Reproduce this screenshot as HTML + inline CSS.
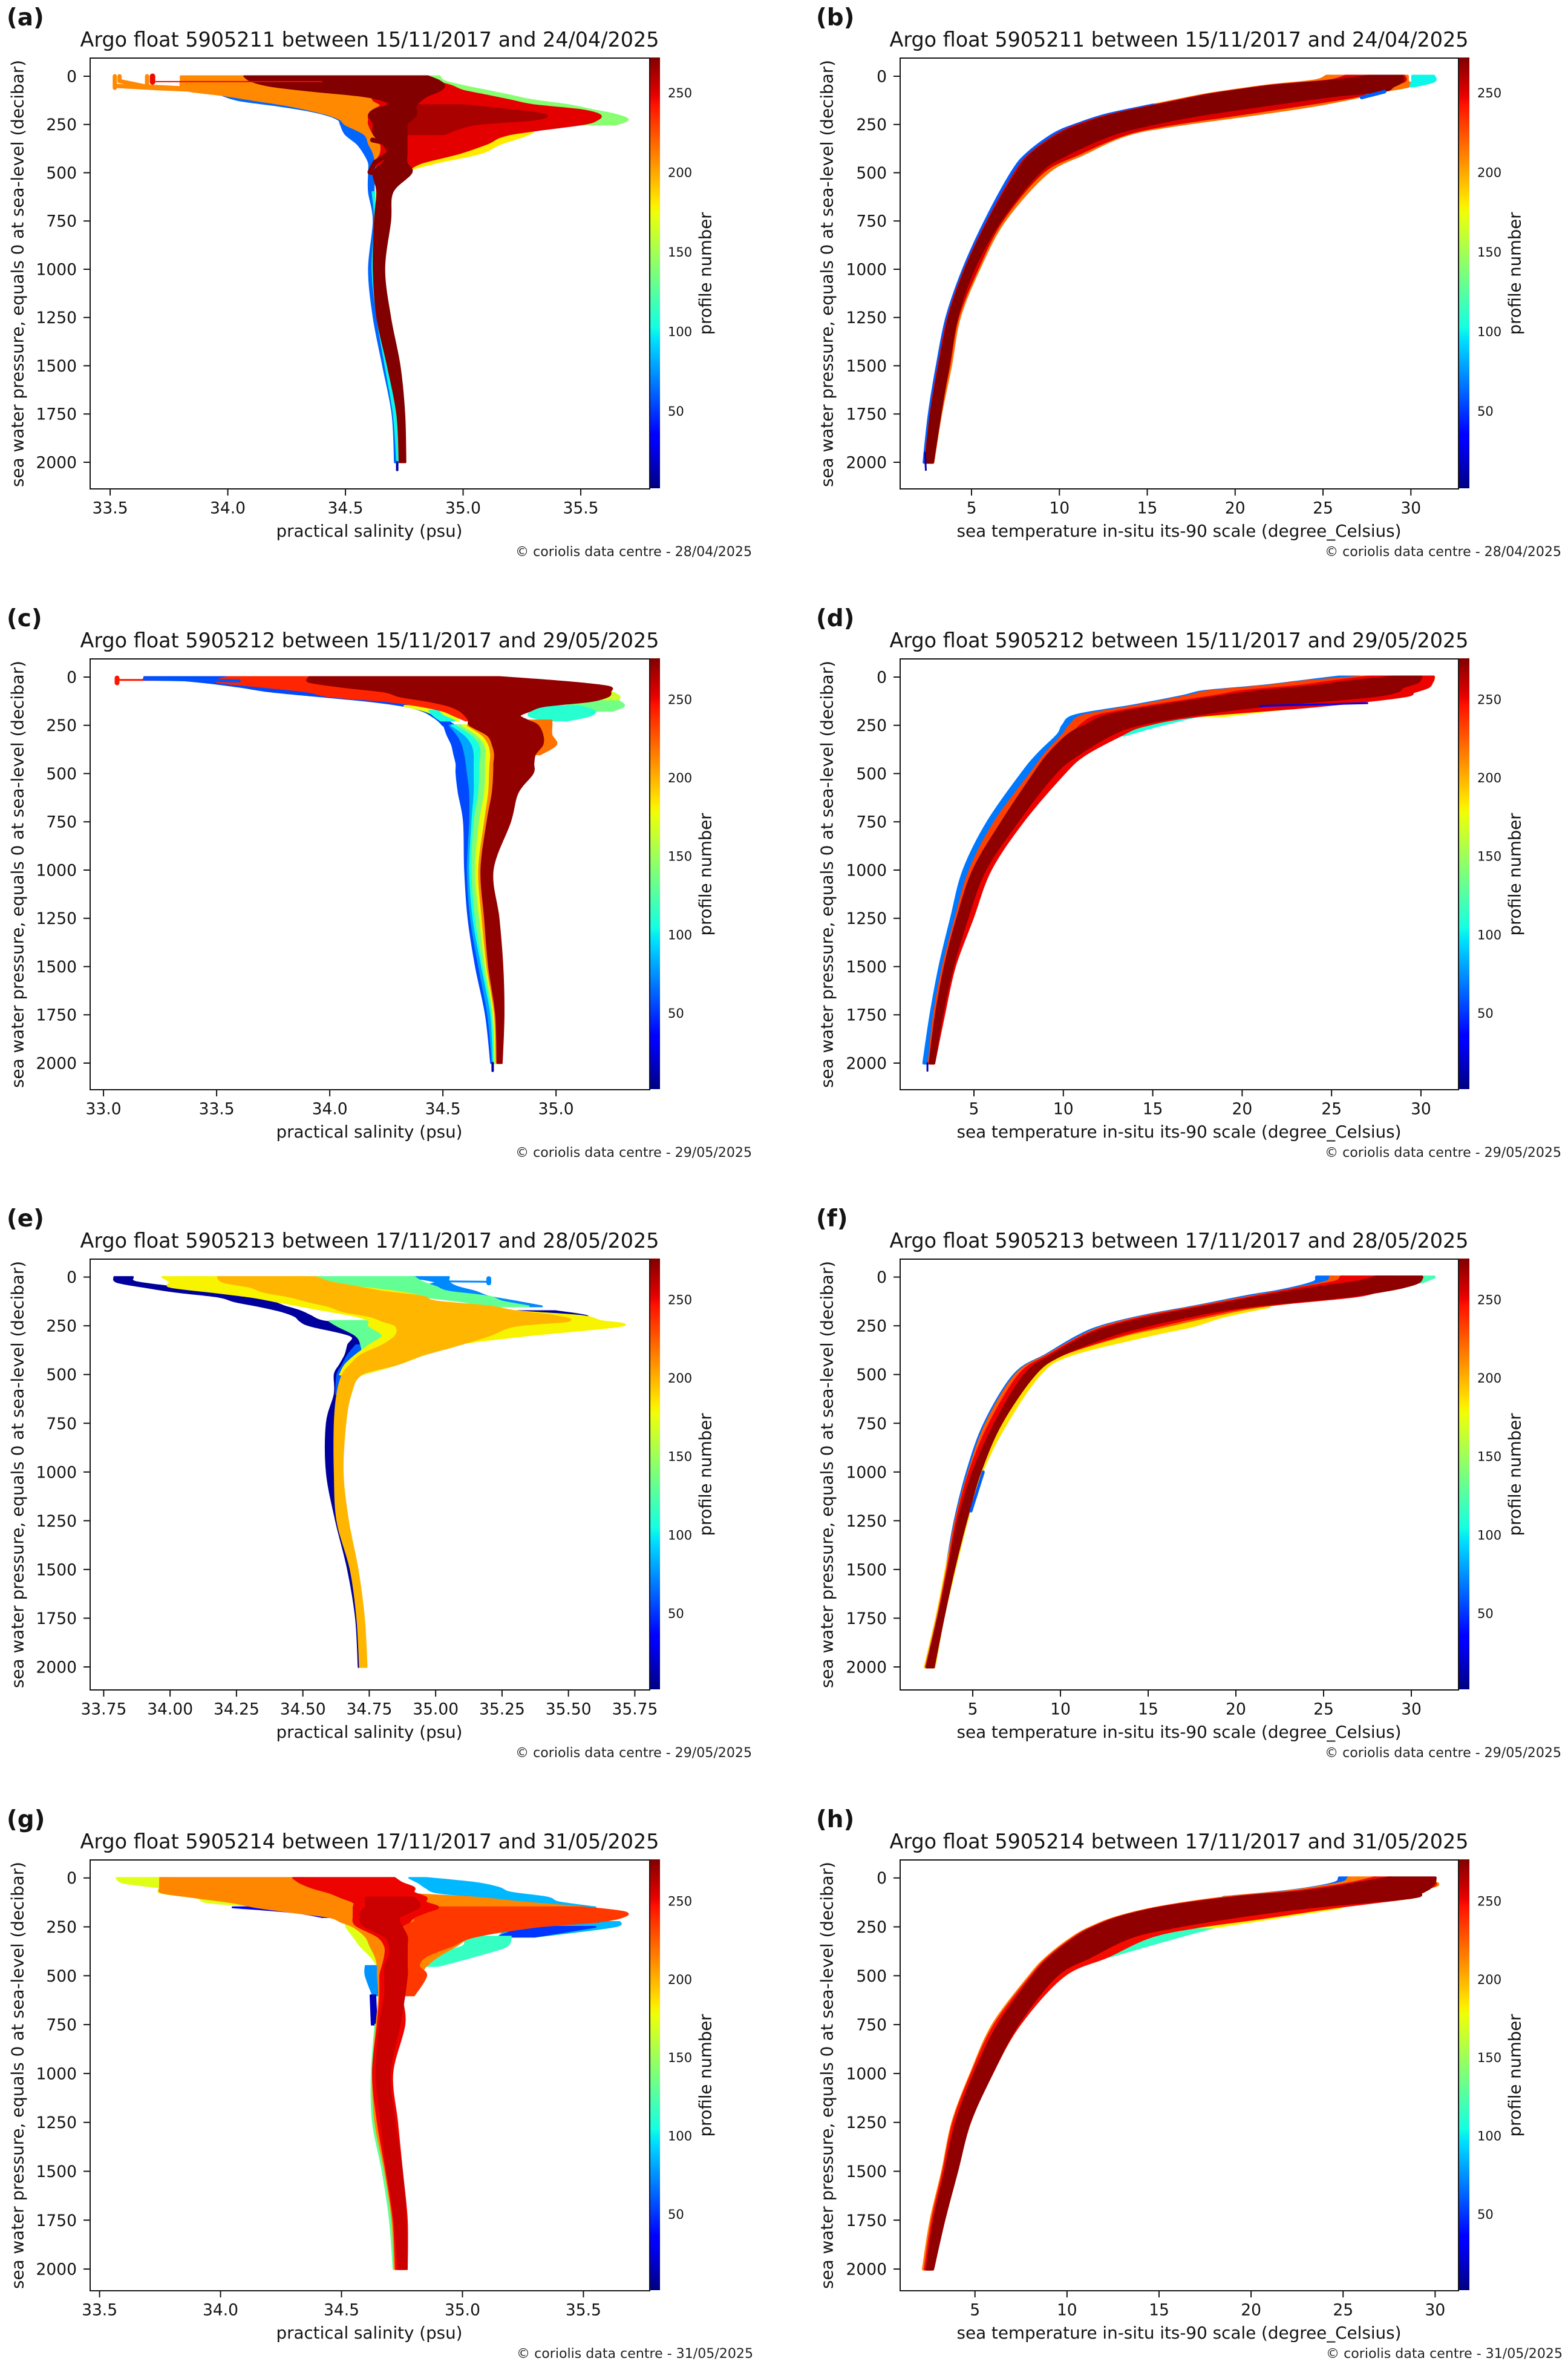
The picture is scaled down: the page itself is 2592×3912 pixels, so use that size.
<!DOCTYPE html>
<html lang="en">
<head>
<meta charset="utf-8">
<title>Argo float profiles 5905211-5905214</title>
<style>
html,body{margin:0;padding:0;background:#fff;}
svg{display:block;}
text{font-family:"DejaVu Sans","Liberation Sans",sans-serif;fill:#141414;}
.pl{font-size:38.9px;font-weight:bold;}
.ti{font-size:33.6px;text-anchor:middle;}
.lb{font-size:27.7px;text-anchor:middle;}
.cp{font-size:22.1px;text-anchor:end;fill:#222;}
</style>
</head>
<body>
<svg id="chart-svg" xmlns="http://www.w3.org/2000/svg" width="2592" height="3912" viewBox="0 0 2592 3912">
<rect x="0" y="0" width="2592" height="3912" fill="#fff"/>
<defs><linearGradient id="jet-gradient" x1="0" y1="1" x2="0" y2="0"></linearGradient></defs>
<g id="marks"></g>

<g transform="translate(0,0)">
<text class="pl" x="11" y="42">(a)</text>
<text class="ti" x="611" y="77" textLength="957" lengthAdjust="spacingAndGlyphs">Argo float 5905211 between 15/11/2017 and 24/04/2025</text>
<text class="lb" x="610.5" y="887" textLength="308" lengthAdjust="spacingAndGlyphs">practical salinity (psu)</text>
<text class="lb" transform="translate(38.5,452) rotate(-90)" textLength="706" lengthAdjust="spacingAndGlyphs">sea water pressure, equals 0 at sea-level (decibar)</text>
<text class="lb" transform="translate(1175.5,452) rotate(-90)" textLength="203" lengthAdjust="spacingAndGlyphs">profile number</text>
<text class="cp" x="1243" y="919" textLength="391" lengthAdjust="spacingAndGlyphs">© coriolis data centre - 28/04/2025</text>
</g>
<g transform="translate(1338,0)">
<text class="pl" x="11" y="42">(b)</text>
<text class="ti" x="611" y="77" textLength="957" lengthAdjust="spacingAndGlyphs">Argo float 5905211 between 15/11/2017 and 24/04/2025</text>
<text class="lb" x="611" y="887" textLength="735" lengthAdjust="spacingAndGlyphs">sea temperature in-situ its-90 scale (degree_Celsius)</text>
<text class="lb" transform="translate(38.5,452) rotate(-90)" textLength="706" lengthAdjust="spacingAndGlyphs">sea water pressure, equals 0 at sea-level (decibar)</text>
<text class="lb" transform="translate(1175.5,452) rotate(-90)" textLength="203" lengthAdjust="spacingAndGlyphs">profile number</text>
<text class="cp" x="1243" y="919" textLength="391" lengthAdjust="spacingAndGlyphs">© coriolis data centre - 28/04/2025</text>
</g>
<g transform="translate(0,993)">
<text class="pl" x="11" y="42">(c)</text>
<text class="ti" x="611" y="77" textLength="957" lengthAdjust="spacingAndGlyphs">Argo float 5905212 between 15/11/2017 and 29/05/2025</text>
<text class="lb" x="610.5" y="887" textLength="308" lengthAdjust="spacingAndGlyphs">practical salinity (psu)</text>
<text class="lb" transform="translate(38.5,452) rotate(-90)" textLength="706" lengthAdjust="spacingAndGlyphs">sea water pressure, equals 0 at sea-level (decibar)</text>
<text class="lb" transform="translate(1175.5,452) rotate(-90)" textLength="203" lengthAdjust="spacingAndGlyphs">profile number</text>
<text class="cp" x="1243" y="919" textLength="391" lengthAdjust="spacingAndGlyphs">© coriolis data centre - 29/05/2025</text>
</g>
<g transform="translate(1338,993)">
<text class="pl" x="11" y="42">(d)</text>
<text class="ti" x="611" y="77" textLength="957" lengthAdjust="spacingAndGlyphs">Argo float 5905212 between 15/11/2017 and 29/05/2025</text>
<text class="lb" x="611" y="887" textLength="735" lengthAdjust="spacingAndGlyphs">sea temperature in-situ its-90 scale (degree_Celsius)</text>
<text class="lb" transform="translate(38.5,452) rotate(-90)" textLength="706" lengthAdjust="spacingAndGlyphs">sea water pressure, equals 0 at sea-level (decibar)</text>
<text class="lb" transform="translate(1175.5,452) rotate(-90)" textLength="203" lengthAdjust="spacingAndGlyphs">profile number</text>
<text class="cp" x="1243" y="919" textLength="391" lengthAdjust="spacingAndGlyphs">© coriolis data centre - 29/05/2025</text>
</g>
<g transform="translate(0,1985)">
<text class="pl" x="11" y="42">(e)</text>
<text class="ti" x="611" y="77" textLength="957" lengthAdjust="spacingAndGlyphs">Argo float 5905213 between 17/11/2017 and 28/05/2025</text>
<text class="lb" x="610.5" y="887" textLength="308" lengthAdjust="spacingAndGlyphs">practical salinity (psu)</text>
<text class="lb" transform="translate(38.5,452) rotate(-90)" textLength="706" lengthAdjust="spacingAndGlyphs">sea water pressure, equals 0 at sea-level (decibar)</text>
<text class="lb" transform="translate(1175.5,452) rotate(-90)" textLength="203" lengthAdjust="spacingAndGlyphs">profile number</text>
<text class="cp" x="1243" y="919" textLength="391" lengthAdjust="spacingAndGlyphs">© coriolis data centre - 29/05/2025</text>
</g>
<g transform="translate(1338,1985)">
<text class="pl" x="11" y="42">(f)</text>
<text class="ti" x="611" y="77" textLength="957" lengthAdjust="spacingAndGlyphs">Argo float 5905213 between 17/11/2017 and 28/05/2025</text>
<text class="lb" x="611" y="887" textLength="735" lengthAdjust="spacingAndGlyphs">sea temperature in-situ its-90 scale (degree_Celsius)</text>
<text class="lb" transform="translate(38.5,452) rotate(-90)" textLength="706" lengthAdjust="spacingAndGlyphs">sea water pressure, equals 0 at sea-level (decibar)</text>
<text class="lb" transform="translate(1175.5,452) rotate(-90)" textLength="203" lengthAdjust="spacingAndGlyphs">profile number</text>
<text class="cp" x="1243" y="919" textLength="391" lengthAdjust="spacingAndGlyphs">© coriolis data centre - 29/05/2025</text>
</g>
<g transform="translate(0,2978)">
<text class="pl" x="11" y="42">(g)</text>
<text class="ti" x="611" y="77" textLength="957" lengthAdjust="spacingAndGlyphs">Argo float 5905214 between 17/11/2017 and 31/05/2025</text>
<text class="lb" x="610.5" y="887" textLength="308" lengthAdjust="spacingAndGlyphs">practical salinity (psu)</text>
<text class="lb" transform="translate(38.5,452) rotate(-90)" textLength="706" lengthAdjust="spacingAndGlyphs">sea water pressure, equals 0 at sea-level (decibar)</text>
<text class="lb" transform="translate(1175.5,452) rotate(-90)" textLength="203" lengthAdjust="spacingAndGlyphs">profile number</text>
<text class="cp" x="1245" y="919" textLength="391" lengthAdjust="spacingAndGlyphs">© coriolis data centre - 31/05/2025</text>
</g>
<g transform="translate(1338,2978)">
<text class="pl" x="11" y="42">(h)</text>
<text class="ti" x="611" y="77" textLength="957" lengthAdjust="spacingAndGlyphs">Argo float 5905214 between 17/11/2017 and 31/05/2025</text>
<text class="lb" x="611" y="887" textLength="735" lengthAdjust="spacingAndGlyphs">sea temperature in-situ its-90 scale (degree_Celsius)</text>
<text class="lb" transform="translate(38.5,452) rotate(-90)" textLength="706" lengthAdjust="spacingAndGlyphs">sea water pressure, equals 0 at sea-level (decibar)</text>
<text class="lb" transform="translate(1175.5,452) rotate(-90)" textLength="203" lengthAdjust="spacingAndGlyphs">profile number</text>
<text class="cp" x="1245" y="919" textLength="391" lengthAdjust="spacingAndGlyphs">© coriolis data centre - 31/05/2025</text>
</g>
</svg>

<script>
const _ = null;
/* shared pressure levels (decibar) */
const saltLevels = [0,25,50,75,100,125,150,175,200,225,250,300,350,400,450,500,600,750,1000,1250,1500,1750,2000];
const tempLevels = [0,25,50,75,100,150,200,250,300,400,500,750,1000,1250,1500,1750,2000];
const pressureTicks = [0,250,500,750,1000,1250,1500,1750,2000];
const profileTicks = [50,100,150,200,250];
const salinityTicksA = [33.5,34,34.5,35,35.5];
const salinityTicksC = [33,33.5,34,34.5,35];
const salinityTicksE = [33.75,34,34.25,34.5,34.75,35,35.25,35.5,35.75];
const salinityTicksG = [33.5,34,34.5,35,35.5];
const temperatureTicks = [5,10,15,20,25,30];

/* Panel a: salinity, float 5905211 */
const aBlueLo = [_,_,_,_,33.98,34.05,34.2,34.33,34.42,34.47,34.48,34.5,34.55,34.58,34.6,34.6,34.6,34.62,34.6,34.62,34.66,34.7,34.71];
const aBlueHi = [_,_,_,_,34.1,34.15,34.3,34.42,34.5,34.55,34.56,34.6,34.64,34.66,34.65,34.63,34.62,34.64,34.625,34.64,34.68,34.72,34.73];
const aCyanLo = [_,_,_,_,_,_,_,_,_,_,_,_,_,_,_,_,34.615,34.625,34.615,34.635,34.67,34.705,34.72];
const aCyanHi = [_,_,_,_,_,_,_,_,_,_,_,_,_,_,_,_,34.645,34.65,34.64,34.66,34.7,34.73,34.74];
const aGreenLo = [34.85,34.88,34.9,34.95,35,35.1,35.2,35.3,35.4,35.5,35.45];
const aGreenHi = [34.9,34.92,35,35.1,35.2,35.3,35.45,35.55,35.65,35.7,35.65];
const aYellowLo = [_,_,_,_,_,_,_,_,_,_,34.8,34.8,34.8,34.75,34.7,34.65,34.63,34.635,34.63,34.65,34.69,34.72,34.73];
const aYellowHi = [_,_,_,_,_,_,_,_,_,_,35.33,35.28,35.16,35.07,34.88,34.75,34.68,34.66,34.65,34.67,34.71,34.74,34.745];
const aOrangeLo = [33.8,33.8,33.8,33.83,33.99,34.12,34.25,34.35,34.43,34.48,34.5,34.58,34.6,34.62,34.63,34.64];
const aOrangeHi = [34.5,34.6,34.7,34.8,34.9,34.95,35,35.1,35.1,35.2,35.3,35.2,35.05,34.95,34.8,34.72];
const aRedLo = [34.2,34.3,34.4,34.5,34.6,34.62,34.65,34.62,34.6,34.6,34.6,34.62,34.65,34.65,34.63,34.65];
const aRedHi = [34.85,34.88,34.95,35,35.1,35.2,35.3,35.5,35.58,35.57,35.5,35.2,35.1,34.98,34.82,34.75];
const aCrimsonLo = [_,_,_,_,_,_,34.7,34.7,34.7,34.72,34.72,34.72];
const aCrimsonHi = [_,_,_,_,_,_,35,35.2,35.35,35.3,35.05,34.92];
const aDarkLo = [34.07,34.1,34.18,34.35,34.56,34.66,34.68,34.62,34.6,34.61,34.62,34.62,34.66,34.68,34.66,34.62,34.635,34.625,34.62,34.635,34.68,34.72,34.73];
const aDarkHi = [34.85,34.9,34.92,34.9,34.85,34.82,34.8,34.8,34.8,34.78,34.76,34.76,34.76,34.76,34.76,34.78,34.7,34.69,34.665,34.69,34.73,34.75,34.755];
const aBar1P = [0,60], aBar1S = [33.52,33.52];
const aBar2P = [0,25,53,62], aBar2S = [33.54,33.54,33.65,33.8];
const aBar3P = [0,55], aBar3S = [33.657,33.657];
const aBar4P = [50,62,70], aBar4S = [33.52,33.7,33.85];
const aBar5P = [0,30], aBar5S = [33.68,33.68];
const aLine1P = [28,28], aLine1S = [33.68,34.4];
const aTailP = [2000,2040], aTailS = [34.72,34.72];
const aLoopP = [330,350,389,447,497,526,555], aLoopS = [34.615,34.69,34.7,34.625,34.604,34.75,34.72];

/* Panel b: temperature, float 5905211 */
const bOuterLo = [25.2,24.5,21.9,19.9,18.1,15.4,12.8,11.1,9.8,8.3,7.4,5.85,4.6,3.65,3.1,2.67,2.36];
const bOuterHi = [29.8,29.8,29.9,28.4,27.3,24.5,20.8,16.8,13.9,11.4,9.3,6.85,5.4,4.3,3.8,3.24,2.8];
const bBlueLo = [_,_,_,_,_,15.3,12.7,11,9.7,8.2,7.3,5.8,4.55,3.6,3.05,2.6,2.3];
const bBlueHi = [_,_,_,_,_,16,13.5,12,10.5,9,7.8,6.2,4.8,3.8,3.2,2.75,2.45];
const bCyanLo = [30.1,30.1,30];
const bCyanHi = [31.3,31.3,30.2];
const bRedLo = [26.3,25.3,22.2,20.1,18.3,15.6,13,11.2,9.95,8.4,7.5,5.95,4.65,3.7,3.15,2.7,2.4];
const bRedHi = [29.6,29.6,28.5,27.5,27,23.6,19.9,16.2,13.7,11.1,9,6.7,5.3,4.2,3.7,3.15,2.78];
const bDarkLo = [27.7,25.6,22.4,20.3,18.5,15.8,13.2,11.4,10.1,8.5,7.6,6,4.7,3.75,3.2,2.72,2.42];
const bDarkHi = [29.5,29.5,29,28.4,25.6,21.6,17.9,15.1,13,10.5,8.8,6.6,5.1,4.15,3.66,3.2,2.78];
const bEdgeP = [80,110], bEdgeT = [28.5,27.2];
const bTailP = [1950,2040], bTailT = [2.35,2.4];

/* Panel c: salinity, float 5905212 */
const cE0 = [_,_,_,_,_,_,_,_,_,_,34.505,34.52,34.54,34.55,34.56,34.56,34.57,34.593,34.598,34.613,34.646,34.69,34.713];
const cE1 = [_,_,_,_,_,_,_,_,_,_,34.53,34.565,34.587,34.598,34.605,34.61,34.62,34.62,34.61,34.624,34.66,34.7,34.72];
const cE2 = [_,_,_,_,_,_,_,_,_,_,34.54,34.598,34.63,34.64,34.64,34.64,34.64,34.63,34.62,34.635,34.673,34.713,34.724];
const cE3 = [_,_,_,_,_,_,_,_,_,_,34.565,34.63,34.664,34.67,34.665,34.664,34.66,34.64,34.63,34.646,34.68,34.72,34.728];
const cE4 = [_,_,_,_,_,_,_,_,_,_,34.587,34.653,34.686,34.693,34.69,34.69,34.686,34.664,34.646,34.664,34.69,34.724,34.733];
const cE5 = [_,_,_,_,_,_,_,_,_,_,34.61,34.675,34.704,34.713,34.71,34.708,34.704,34.686,34.66,34.675,34.697,34.73,34.737];
const cDarkLo = [33.91,33.91,34.05,34.24,34.31,34.44,34.53,34.576,34.6,34.615,34.62,34.697,34.72,34.73,34.727,34.726,34.72,34.697,34.67,34.686,34.704,34.735,34.741];
const cDarkHi = [34.75,35.04,35.23,35.24,35.23,35.15,34.95,34.885,34.84,34.874,34.918,34.94,34.94,34.907,34.9,34.896,34.83,34.797,34.72,34.746,34.763,34.768,34.76];
const cBlueShallowLo = [33.18,33.43,33.6,33.74,33.96,34.18,34.33,34.41,34.45,34.48,34.5];
const cBlueShallowHi = [33.9,33.7,33.75,33.9,34.15,34.3,34.4,34.47,34.5,34.52,34.55];
const cSurfBlueLo = [34.58,34.58];
const cSurfBlueHi = [34.75,34.7];
const cSurfCyanLo = [34.45,34.45];
const cSurfCyanHi = [34.58,34.58];
const cSurfYellowLo = [34.2,34.2];
const cSurfYellowHi = [34.3,34.3];
const cRedShallowLo = [33.55,33.5,33.7,33.9,34,34.25,34.4,34.5,34.55,34.6];
const cRedShallowHi = [33.95,34.2,34.4,34.5,34.6,34.7,34.8,34.7,34.7,34.7];
const cFanYellowLo = [_,_,_,_,_,_,34.33,34.42,34.47,34.5];
const cFanYellowHi = [_,_,_,_,_,_,34.45,34.5,34.55,34.57];
const cFanCyanLo = [_,_,_,_,_,_,_,34.44,34.46,34.49];
const cFanCyanHi = [_,_,_,_,_,_,_,34.48,34.5,34.55];
const cLimeLo = [_,_,_,35.18,35.2,35.2];
const cLimeHi = [_,_,_,35.24,35.28,35.27];
const cGreenLo = [_,_,_,_,_,35.1,35.05,35.1];
const cGreenHi = [_,_,_,_,_,35.28,35.3,35.25];
const cTealLo = [_,_,_,_,_,_,34.95,34.9,34.88,34.95];
const cTealHi = [_,_,_,_,_,_,35.1,35.17,35.15,35.05];
const cOrangeLo = [_,_,_,_,_,_,_,_,_,34.85,34.88,34.9,34.92,34.9];
const cOrangeHi = [_,_,_,_,_,_,_,_,_,34.98,34.98,34.98,35,34.93];
const cStrayRedP = [15,15], cStrayRedS = [33.06,33.5];
const cStrayBarP = [5,30], cStrayBarS = [33.06,33.06];
const cStrayBlueP = [10,15,20], cStrayBlueS = [33.18,33.4,33.6];
const cTailP = [2000,2040], cTailS = [34.72,34.72];

/* Panel d: temperature, float 5905212 */
const dBlueLo = [25.4,23.2,20.9,17.9,16.7,13.9,10.7,10,9.7,8.6,7.7,5.8,4.45,3.75,3.1,2.6,2.2];
const dBlueHi = [26.6,24,22,18.5,17.5,14.8,12.5,11,10.4,9.3,8.4,6.4,5,4.1,3.4,2.9,2.7];
const dCyanLo = [_,_,_,_,_,_,14,13.5,12];
const dCyanHi = [_,_,_,_,_,_,17.5,15.3,13.4];
const dYellowLo = [_,_,_,_,_,20,17];
const dYellowHi = [_,_,_,_,_,23.5,19];
const dOrangeLo = [26.8,23.5,21.2,18.2,17,14.2,11.2,10.4,10,9,8.2,6.2,4.8,4,3.3,2.8,2.5];
const dOrangeHi = [30.7,30.6,30,28,25,19.5,15.5,13,11.5,10,9.2,7,5.3,4.4,3.6,3.05,2.7];
const dRedLo = [27.2,25,23,20,18.5,15,12,11,10.5,9.4,8.6,6.8,5.2,4.3,3.5,3,2.6];
const dRedHi = [30.7,30.6,30.4,29.6,28.9,24,17.5,14.5,13.2,11.2,10,7.7,5.9,4.9,3.9,3.3,2.75];
const dDarkLo = [28.5,26,24,21,19,15.5,12.5,11.3,10.3,9.2,8.4,6.6,5,4.1,3.4,2.9,2.55];
const dDarkHi = [30,29.8,29,28.6,27,21,16.8,14,12.6,10.8,9.5,7.4,5.6,4.6,3.8,3.2,2.75];
const dVioletP = [150,135], dVioletT = [21,27];
const dTailP = [2000,2040], dTailT = [2.4,2.4];

/* Panel e: salinity, float 5905213 */
const eNavyLo = [33.79,33.8,33.9,34.02,34.18,34.245,34.34,34.42,34.47,34.49,34.53,34.68,34.67,34.66,34.64,34.62,34.62,34.59,34.59,34.625,34.67,34.7,34.71];
const eNavyHi = [33.86,33.87,34,34.15,34.3,34.38,34.43,34.49,34.53,34.57,34.68,34.73,34.73,34.72,34.66,34.64,34.625,34.625,34.625,34.64,34.68,34.71,34.72];
const eNavyTailLo = [_,_,_,_,_,_,_,35.2,35.4,35.45];
const eNavyTailHi = [_,_,_,_,_,_,_,35.45,35.57,35.55];
const eSkyLo = [34.9,35,34.95,35,35.1,35.2,35.25];
const eSkyHi = [35.05,35.05,35.08,35.15,35.2,35.3,35.4];
const eBlueLo = [_,_,_,_,_,_,_,_,_,_,_,_,34.7,34.67,34.65,34.63,34.625];
const eBlueHi = [_,_,_,_,_,_,_,_,_,_,_,_,34.75,34.72,34.7,34.68,34.64];
const eGreenTopLo = [34.49,34.55,34.7,34.8,34.95,35.1,35.2];
const eGreenTopHi = [34.92,34.95,35,35.05,35.2,35.25,35.35];
const eGreenLowLo = [_,_,_,_,_,_,_,_,_,34.6,34.63,34.7,34.72,34.72,34.68,34.64];
const eGreenLowHi = [_,_,_,_,_,_,_,_,_,34.85,34.85,34.85,34.85,34.8,34.74,34.68];
const eLimeLo = [34.03,34.03,34.08];
const eLimeHi = [34.15,34.15,34.2];
const eYellowLo = [33.97,34,34,34.15,34.3,34.4,34.5,34.6,34.7,34.75,34.75,34.8,34.75,34.7,34.66,34.64];
const eYellowHi = [34.5,34.6,34.7,34.85,34.95,35,35.15,35.3,35.55,35.62,35.7,35.34,35.05,34.95,34.85,34.72];
const eAmberLo = [34.18,34.2,34.3,34.35,34.45,34.52,34.6,34.65,34.75,34.8,34.85,34.85,34.8,34.72,34.68,34.65,34.63,34.62,34.62,34.63,34.68,34.705,34.715];
const eAmberHi = [34.55,34.6,34.7,34.8,34.95,35,35.2,35.3,35.45,35.5,35.3,35.2,35.08,34.95,34.85,34.72,34.68,34.66,34.65,34.67,34.706,34.73,34.74];
const eStrayP = [22,24], eStrayS = [35.03,35.2];
const eStrayBarP = [8,30], eStrayBarS = [35.2,35.2];

/* Panel f: temperature, float 5905213 */
const fBlueLo = [24.6,24.5,23.6,22.3,20.6,17.8,14.8,12.5,11.1,9.2,7.4,5.7,4.7,4,3.5,2.95,2.3];
const fBlueHi = [25.6,25.4,24.4,23,21.4,18.6,15.5,13,11.5,9.6,7.9,6.3,5.2,4.3,3.7,3.1,2.4];
const fYellowLo = [_,_,_,_,_,20,17,14.5,12.5,9.5,7.8,6,4.9,4.1,3.5,2.95,2.3];
const fYellowHi = [_,_,_,_,_,21.9,19.3,17.5,14.9,10.5,8.8,6.9,5.5,4.65,3.95,3.3,2.8];
const fCyanLo = [30.6,30];
const fCyanHi = [31.3,30.6];
const fOrangeLo = [25.4,25.2,24,22.6,21,18,15,12.7,11.3,9.3,7.5,5.8,4.8,4.05,3.55,3,2.35];
const fOrangeHi = [30.6,30.4,29.5,28,26,21.3,18.5,16,13.5,10,8.5,6.6,5.4,4.5,3.85,3.25,2.75];
const fRedLo = [26,25.7,24.2,22.7,21.2,18.2,15.2,12.9,11.4,9.4,7.7,6,4.85,4.1,3.6,3.05,2.4];
const fRedHi = [29,30,29.5,28,26.5,21,18,15.5,13.3,10,8.4,6.5,5.3,4.5,3.8,3.2,2.7];
const fDarkLo = [28,27,25,23.2,21.6,18.6,15.6,13.2,11.6,9.6,8,6.3,5.05,4.2,3.65,3.05,2.4];
const fDarkHi = [30.6,30.4,29.5,28,26,20.5,17.3,14.8,12.8,10,8.5,6.6,5.4,4.6,3.9,3.3,2.75];
const fEdgeP = [1000,1200], fEdgeT = [5.6,4.9];

/* Panel g: salinity, float 5905214 */
const gYellowLo = [33.57,33.6,33.75,33.75,33.9,33.95,34.2,34.4,34.5,34.52,34.52,34.55,34.58,34.62,34.65];
const gYellowHi = [33.8,33.85,34.2,34.3,34.4,34.5,34.6,34.7,34.7,34.7,34.7,34.65,34.7,34.72,34.7];
const gCyanLo = [34.78,34.82,34.85,34.9,35.1,35.2,35.4];
const gCyanHi = [34.85,35.05,35.15,35.2,35.35,35.4,35.55];
const gBlueLo = [_,_,_,_,_,_,34.05,34.3,34.42];
const gBlueHi = [_,_,_,_,_,_,34.17,34.4,34.52];
const gTailCyanLo = [_,_,_,_,_,_,_,_,_,35.3,35.2,35.15];
const gTailCyanHi = [_,_,_,_,_,_,_,_,_,35.65,35.62,35.3];
const gTailBlueLo = [_,_,_,_,_,_,_,_,_,_,35.25,35.15];
const gTailBlueHi = [_,_,_,_,_,_,_,_,_,_,35.55,35.3];
const gTealLo = [_,_,_,_,_,_,_,_,_,_,_,35,35,34.85,34.8];
const gTealHi = [_,_,_,_,_,_,_,_,_,_,_,35.2,35.18,35.05,34.9];
const gSkyLo = [_,_,_,_,_,_,_,_,_,_,_,_,_,_,34.6,34.6,34.63];
const gSkyHi = [_,_,_,_,_,_,_,_,_,_,_,_,_,_,34.65,34.67,34.67];
const gNavyLo = [_,_,_,_,_,_,_,_,_,_,_,_,_,_,_,_,34.62,34.625];
const gNavyHi = [_,_,_,_,_,_,_,_,_,_,_,_,_,_,_,_,34.64,34.645];
const gDeepGreenLo = [_,_,_,_,_,_,_,_,_,_,_,_,_,_,_,_,_,34.64,34.625,34.63,34.67,34.7,34.715];
const gDeepGreenHi = [_,_,_,_,_,_,_,_,_,_,_,_,_,_,_,_,_,34.66,34.64,34.65,34.69,34.72,34.73];
const gOrangeLo = [33.75,33.75,33.75,33.76,33.9,34.05,34.15,34.3,34.45,34.5,34.55,34.6,34.62,34.64,34.65,34.65,34.655,34.645,34.63,34.64,34.68,34.71,34.72];
const gOrangeHi = [34.35,34.5,34.6,34.7,35.05,35.25,35.5,35.65,35.65,35.55,35.3,35.05,34.97,34.9,34.85,34.82,34.75,34.72,34.68,34.7,34.73,34.75,34.76];
const gOrangeRedLo = [_,_,_,_,_,_,34.8,34.8,34.8,34.8,34.75,34.75,34.75,34.7,34.7,34.7,34.75];
const gOrangeRedHi = [_,_,_,_,_,_,35.5,35.67,35.66,35.55,35.3,35.05,34.95,34.85,34.82,34.85,34.8];
const gRedLo = [34.3,34.33,34.38,34.45,34.5,34.55,34.55,34.55,34.55,34.55,34.57,34.65,34.68,34.68,34.67,34.66,34.66,34.65,34.63,34.65,34.685,34.715,34.725];
const gRedHi = [34.72,34.75,34.8,34.8,34.85,34.85,34.9,34.85,34.8,34.78,34.75,34.77,34.77,34.77,34.77,34.77,34.75,34.76,34.71,34.73,34.75,34.77,34.77];
const gCoreLo = [_,_,_,_,34.6,34.6,34.6,34.58,34.58,34.58,34.6,34.68,34.7,34.7,34.68,34.68,34.68,34.66,34.645,34.665,34.69,34.72,34.735];
const gCoreHi = [_,_,_,_,34.8,34.82,34.82,34.78,34.74,34.74,34.75,34.77,34.77,34.77,34.77,34.77,34.76,34.74,34.7,34.72,34.75,34.765,34.77];

/* Panel h: temperature, float 5905214 */
const hBlueLo = [24.8,24.6,23.4,21.4,18.5];
const hBlueHi = [25.3,25.2,24.5,22.5,19.5];
const hCyanLo = [_,_,_,_,_,_,_,15,12.5,9.6];
const hCyanHi = [_,_,_,_,_,_,_,18,16,12.3];
const hYellowLo = [_,_,_,_,_,22,19,16];
const hYellowHi = [_,_,_,_,_,24.9,21.4,18];
const hOrangeLo = [25.3,25,23.6,21.6,18.7,15.1,12.8,11.4,10.4,9,8,6,4.8,3.8,3.25,2.62,2.2];
const hOrangeHi = [26.7,29.95,29.7,29.2,28.6,24,20.5,17,14,12,9.8,7.2,5.8,4.6,3.95,3.25,2.6];
const hRedLo = [26.7,25.6,24,22,19,15.2,12.9,11.5,10.5,9.1,8.1,6.1,4.85,3.85,3.3,2.7,2.3];
const hRedHi = [27.6,29.9,29.6,29.1,28.5,24.4,20.8,17,14.5,12.2,9.8,7.4,5.9,4.7,4,3.3,2.7];
const hDarkLo = [27.5,26,24.5,22.5,19.3,15.4,13,11.6,10.6,9.2,8.2,6.3,5,4,3.4,2.8,2.4];
const hDarkHi = [30,29.95,29.7,29.2,28.6,23,19,15.8,13.5,11.3,9.4,7.3,5.9,4.7,4,3.3,2.7];

/* Draw order per panel: [profile number, low edge, high edge] */
const aBands = [[62,aBlueLo,aBlueHi],[100,aCyanLo,aCyanHi],[140,aGreenLo,aGreenHi],[180,aYellowLo,aYellowHi],[208,aOrangeLo,aOrangeHi],[248,aRedLo,aRedHi],[262,aCrimsonLo,aCrimsonHi],[271,aDarkLo,aDarkHi]];
const aLines = [[208,7,aBar1P,aBar1S],[208,7,aBar2P,aBar2S],[208,7,aBar3P,aBar3S],[208,7,aBar4P,aBar4S],[245,9,aBar5P,aBar5S],[245,2,aLine1P,aLine1S],[10,4,aTailP,aTailS],[271,8,aLoopP,aLoopS]];
const bBands = [[215,bOuterLo,bOuterHi],[60,bBlueLo,bBlueHi],[100,bCyanLo,bCyanHi],[250,bRedLo,bRedHi],[271,bDarkLo,bDarkHi]];
const bLines = [[60,6,bEdgeP,bEdgeT],[15,3,bTailP,bTailT]];
const cBands = [[55,cBlueShallowLo,cBlueShallowHi],[65,cSurfBlueLo,cSurfBlueHi],[95,cSurfCyanLo,cSurfCyanHi],[180,cSurfYellowLo,cSurfYellowHi],[175,cFanYellowLo,cFanYellowHi],[105,cFanCyanLo,cFanCyanHi],[240,cRedShallowLo,cRedShallowHi],[165,cLimeLo,cLimeHi],[135,cGreenLo,cGreenHi],[110,cTealLo,cTealHi],[218,cOrangeLo,cOrangeHi],[55,cE0,cE1],[80,cE1,cE2],[105,cE2,cE3],[140,cE3,cE4],[175,cE4,cE5],[212,cE5,cDarkLo],[271,cDarkLo,cDarkHi]];
const cLines = [[245,3,cStrayRedP,cStrayRedS],[245,8,cStrayBarP,cStrayBarS],[58,5,cStrayBlueP,cStrayBlueS],[10,4,cTailP,cTailS]];
const dBands = [[68,dBlueLo,dBlueHi],[108,dCyanLo,dCyanHi],[175,dYellowLo,dYellowHi],[232,dOrangeLo,dOrangeHi],[250,dRedLo,dRedHi],[272,dDarkLo,dDarkHi]];
const dLines = [[28,3,dVioletP,dVioletT],[15,3,dTailP,dTailT]];
const eBands = [[8,eNavyLo,eNavyHi],[8,eNavyTailLo,eNavyTailHi],[72,eSkyLo,eSkyHi],[60,eBlueLo,eBlueHi],[130,eGreenTopLo,eGreenTopHi],[130,eGreenLowLo,eGreenLowHi],[160,eLimeLo,eLimeHi],[180,eYellowLo,eYellowHi],[198,eAmberLo,eAmberHi]];
const eLines = [[72,3,eStrayP,eStrayS],[72,8,eStrayBarP,eStrayBarS]];
const fBands = [[65,fBlueLo,fBlueHi],[120,fCyanLo,fCyanHi],[185,fYellowLo,fYellowHi],[225,fOrangeLo,fOrangeHi],[250,fRedLo,fRedHi],[272,fDarkLo,fDarkHi]];
const fLines = [[60,5,fEdgeP,fEdgeT]];
const gBands = [[172,gYellowLo,gYellowHi],[85,gCyanLo,gCyanHi],[35,gBlueLo,gBlueHi],[85,gTailCyanLo,gTailCyanHi],[50,gTailBlueLo,gTailBlueHi],[115,gTealLo,gTealHi],[75,gSkyLo,gSkyHi],[15,gNavyLo,gNavyHi],[130,gDeepGreenLo,gDeepGreenHi],[212,gOrangeLo,gOrangeHi],[235,gOrangeRedLo,gOrangeRedHi],[250,gRedLo,gRedHi],[258,gCoreLo,gCoreHi]];
const gLines = [];
const hBands = [[62,hBlueLo,hBlueHi],[115,hCyanLo,hCyanHi],[180,hYellowLo,hYellowHi],[215,hOrangeLo,hOrangeHi],[248,hRedLo,hRedHi],[272,hDarkLo,hDarkHi]];
const hLines = [];

const rows = [
  {top:96,bottom:808,pTop:-94,pBottom:2138,vmax:271.6},
  {top:1089,bottom:1801,pTop:-94,pBottom:2138,vmax:275.6},
  {top:2081,bottom:2793,pTop:-92,pBottom:2118,vmax:275.6},
  {top:3074,bottom:3786,pTop:-92,pBottom:2111,vmax:276}
];
const columns = [{left:149,right:1074,barW:17,barText:1104},{left:1488,right:2411,barW:18,barText:2442}];
const panels = [
  {row:0,col:0,edge:3,xlim:[33.415,35.793],ticks:salinityTicksA,dec:1,levels:saltLevels,bands:aBands,lines:aLines},
  {row:0,col:1,edge:5,xlim:[0.938,32.71],ticks:temperatureTicks,dec:0,levels:tempLevels,bands:bBands,lines:bLines},
  {row:1,col:0,edge:3,xlim:[32.941,35.414],ticks:salinityTicksC,dec:1,levels:saltLevels,bands:cBands,lines:cLines},
  {row:1,col:1,edge:5,xlim:[0.873,32.1],ticks:temperatureTicks,dec:0,levels:tempLevels,bands:dBands,lines:dLines},
  {row:2,col:0,edge:3,xlim:[33.699,35.806],ticks:salinityTicksE,dec:2,levels:saltLevels,bands:eBands,lines:eLines},
  {row:2,col:1,edge:5,xlim:[0.862,32.69],ticks:temperatureTicks,dec:0,levels:tempLevels,bands:fBands,lines:fLines},
  {row:3,col:0,edge:3,xlim:[33.461,35.774],ticks:salinityTicksG,dec:1,levels:saltLevels,bands:gBands,lines:gLines},
  {row:3,col:1,edge:5,xlim:[0.935,31.27],ticks:temperatureTicks,dec:0,levels:tempLevels,bands:hBands,lines:hLines}
];

const NS = 'http://www.w3.org/2000/svg';
const marks = document.getElementById('marks');
function make(tag, parent) {
  const el = document.createElementNS(NS, tag);
  parent.appendChild(el);
  return el;
}
function ramp(t, pts) {
  for (let i = 1; i < pts.length; i++) {
    if (t <= pts[i][0]) {
      const a = pts[i-1], b = pts[i];
      return a[1] + (b[1]-a[1]) * (t-a[0]) / (b[0]-a[0]);
    }
  }
  return pts[pts.length-1][1];
}
const jetR = [[0,0],[.35,0],[.66,1],[.89,1],[1,.5]];
const jetG = [[0,0],[.125,0],[.375,1],[.64,1],[.91,0],[1,0]];
const jetB = [[0,.5],[.11,1],[.34,1],[.65,0],[1,0]];
function jet(t) {
  const c = Math.max(0, Math.min(1, t));
  const f = p => Math.round(255 * ramp(c, p));
  return 'rgb(' + f(jetR) + ',' + f(jetG) + ',' + f(jetB) + ')';
}
const grad = document.getElementById('jet-gradient');
for (let i = 0; i <= 64; i++) {
  const st = make('stop', grad);
  st.setAttribute('offset', i/64);
  st.setAttribute('stop-color', jet(i/64));
}
/* smooth edge through the read points (curve display only) */
function curve(pts) {
  let d = '';
  for (let i = 0; i < pts.length - 1; i++) {
    const p0 = pts[i-1] || pts[i], p1 = pts[i], p2 = pts[i+1], p3 = pts[i+2] || p2;
    d += ' C' + (p1[0] + (p2[0]-p0[0])/6).toFixed(1) + ' ' + (p1[1] + (p2[1]-p0[1])/6).toFixed(1) +
         ' ' + (p2[0] - (p3[0]-p1[0])/6).toFixed(1) + ' ' + (p2[1] - (p3[1]-p1[1])/6).toFixed(1) +
         ' ' + p2[0].toFixed(1) + ' ' + p2[1].toFixed(1);
  }
  return d;
}

panels.forEach(function (pn, idx) {
  const r = rows[pn.row], c = columns[pn.col];
  const x = v => c.left + (v - pn.xlim[0]) * (c.right - c.left) / (pn.xlim[1] - pn.xlim[0]);
  const y = p => r.top + (p - r.pTop) * (r.bottom - r.top) / (r.pBottom - r.pTop);
  const color = n => jet((n - 1) / (r.vmax - 1));
  const g = make('g', marks);
  
  

  pn.bands.forEach(function (b) {
    const front = [], back = [];
    b[1].forEach(function (v, i) {
      if (v === null || b[2][i] === null || b[2][i] === undefined) return;
      front.push([x(v), y(pn.levels[i])]);
      back.unshift([x(b[2][i]), y(pn.levels[i])]);
    });
    if (!front.length) return;
    const el = make('path', g);
    
    
    el.setAttribute('d', 'M' + front[0][0].toFixed(1) + ' ' + front[0][1].toFixed(1) + curve(front) +
      ' L' + back[0][0].toFixed(1) + ' ' + back[0][1].toFixed(1) + curve(back) + ' Z');
    el.setAttribute('fill', color(b[0]));
    el.setAttribute('stroke', color(b[0]));
    el.setAttribute('stroke-width', pn.edge);
    el.setAttribute('stroke-linejoin', 'round');
  });

  pn.lines.forEach(function (l) {
    const el = make('polyline', g);
    
    
    el.setAttribute('points', l[3].map((v, i) => x(v).toFixed(1) + ',' + y(l[2][i]).toFixed(1)).join(' '));
    el.setAttribute('fill', 'none');
    el.setAttribute('stroke', color(l[0]));
    el.setAttribute('stroke-width', l[1]);
    el.setAttribute('stroke-linecap', 'round');
    el.setAttribute('stroke-linejoin', 'round');
  });

  const bar = make('rect', g);
  
  
  bar.setAttribute('x', c.right);
  bar.setAttribute('y', r.top - 1);
  bar.setAttribute('width', c.barW);
  bar.setAttribute('height', r.bottom - r.top);
  bar.setAttribute('fill', 'url(#jet-gradient)');

  const frame = make('path', g);
  
  
  frame.setAttribute('d', 'M' + c.left + ' ' + r.top + 'H' + c.right + 'V' + r.bottom + 'H' + c.left + 'Z');
  frame.setAttribute('fill', 'none');
  frame.setAttribute('stroke', '#141414');
  frame.setAttribute('stroke-width', '2');

  const barScale = v => r.bottom - (v - 1) * (r.bottom - r.top) / (r.vmax - 1);
  profileTicks.forEach(function (v) {
    const t = make('text', g);
    
    
    t.setAttribute('x', c.barText);
    t.setAttribute('y', barScale(v) + 8);
    t.setAttribute('font-size', '21');
    t.textContent = v;
  });

  pressureTicks.forEach(function (v) {
    const m = make('line', g);
    
    
    m.setAttribute('x1', c.left - 11);
    m.setAttribute('x2', c.left);
    m.setAttribute('y1', y(v));
    m.setAttribute('y2', y(v));
    m.setAttribute('stroke', '#141414');
    m.setAttribute('stroke-width', '2');
    const t = make('text', g);
    
    
    t.setAttribute('x', c.left - 22);
    t.setAttribute('y', y(v) + 9.5);
    t.setAttribute('text-anchor', 'end');
    t.setAttribute('font-size', '26.5');
    t.textContent = v;
  });

  pn.ticks.forEach(function (v) {
    const m = make('line', g);
    
    
    m.setAttribute('x1', x(v));
    m.setAttribute('x2', x(v));
    m.setAttribute('y1', r.bottom);
    m.setAttribute('y2', r.bottom + 11);
    m.setAttribute('stroke', '#141414');
    m.setAttribute('stroke-width', '2');
    const t = make('text', g);
    
    
    t.setAttribute('x', x(v));
    t.setAttribute('y', r.bottom + 40.5);
    t.setAttribute('text-anchor', 'middle');
    t.setAttribute('font-size', '26.5');
    t.textContent = v.toFixed(pn.dec);
  });
});
</script>
</body>
</html>
